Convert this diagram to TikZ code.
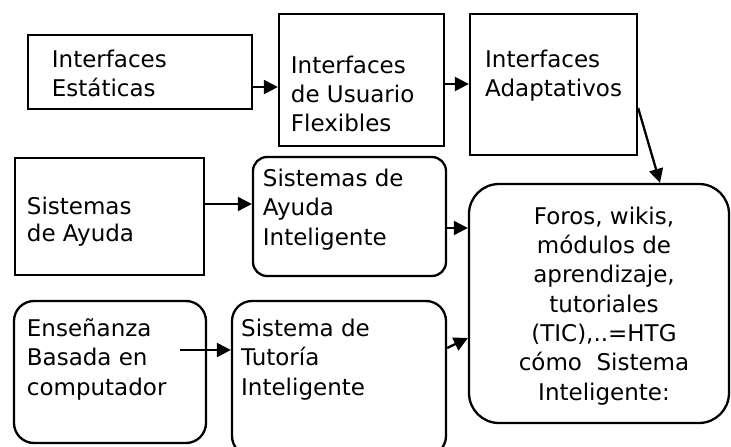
\documentclass[tikz,border=0pt]{standalone}
\usepackage{fontspec}
\setmainfont{DejaVu Sans}
\usepackage{tikz}
\usetikzlibrary{arrows.meta}

\tikzset{
	caja/.style={draw, line width=2.3pt, inner sep=0pt},
	cajar/.style={caja, rounded corners=#1},
	texto/.style={inner sep=0pt, anchor=base west, align=left, font=\fontsize{23}{29.3}\selectfont},
	flecha/.style={line width=2.3pt, -{Triangle[length=14pt,width=14pt]}}
}

\begin{document}
\begin{tikzpicture}[x=1pt, y=-1pt]
\useasboundingbox (0,0) rectangle (731,447);
\clip (0,0) rectangle (731,447);
% cajas
\node[caja, minimum width=224pt, minimum height=74pt] (estat) at (140,72) {};
\node[caja, minimum width=165pt, minimum height=132pt] (flex) at (361.5,80) {};
\node[caja, minimum width=167pt, minimum height=141pt] (adapt) at (553.5,84.5) {};
\node[caja, minimum width=189pt, minimum height=117pt] (ayuda) at (109.5,216.5) {};
\node[cajar=14pt, minimum width=193pt, minimum height=119pt] (ayudaint) at (349.5,216.5) {};
\node[cajar=30pt, minimum width=260pt, minimum height=239pt] (htg) at (599,303.5) {};
\node[cajar=20pt, minimum width=192pt, minimum height=142pt] (ens) at (110,372) {};
\node[cajar=20pt, minimum width=214pt, minimum height=155pt] (tutor) at (339,378.5) {};

% textos (anclados en la ultima linea)
\node[texto] (testat) at (51.7,96.7) {Interfaces\\Estáticas};
\node[texto] (tflex) at (290.7,131.7) {Interfaces\\de Usuario\\Flexibles};
\node[texto] (tadapt) at (485,96.7) {Interfaces\\Adaptativos};
\node[texto, font=\fontsize{23}{27.7}\selectfont] (tayuda) at (26.7,241.7) {Sistemas\\de Ayuda};
\node[texto] (tayudaint) at (262.7,245) {Sistemas de\\Ayuda\\Inteligente};
\node[texto] (tens) at (26.7,395) {Enseñanza\\Basada en\\computador};
\node[texto] (ttutor) at (241,395) {Sistema de\\Tutoría\\Inteligente};
\node[texto, anchor=base, align=center] (thtg) at (604,400)
	{Foros, wikis,\\módulos de\\aprendizaje,\\tutoriales\\(TIC),..=HTG\\cómo\ \ Sistema\\Inteligente:};

% flechas
\path ([yshift=-15pt]estat.east) coordinate (a1);
\draw[flecha] (a1) -- (a1 -| flex.west);
\path ([yshift=-4pt]flex.east) coordinate (a2);
\draw[flecha] (a2) -- (a2 -| adapt.west);
\draw[flecha] ([yshift=-23.5pt]adapt.east) -- ([xshift=61pt]htg.north);
\path ([yshift=12.5pt]ayuda.east) coordinate (a4);
\draw[flecha] (a4) -- (a4 -| ayudaint.west);
\path ([yshift=-11.5pt]ayudaint.east) coordinate (a5);
\draw[flecha] (a5) -- (a5 -| htg.west);
\coordinate (a6) at (180,350);
\draw[flecha] (a6) -- (a6 -| tutor.west);
\draw[flecha] ([yshift=30.5pt]tutor.east) -- ([yshift=-34.5pt]htg.west);
\end{tikzpicture}
\end{document}
